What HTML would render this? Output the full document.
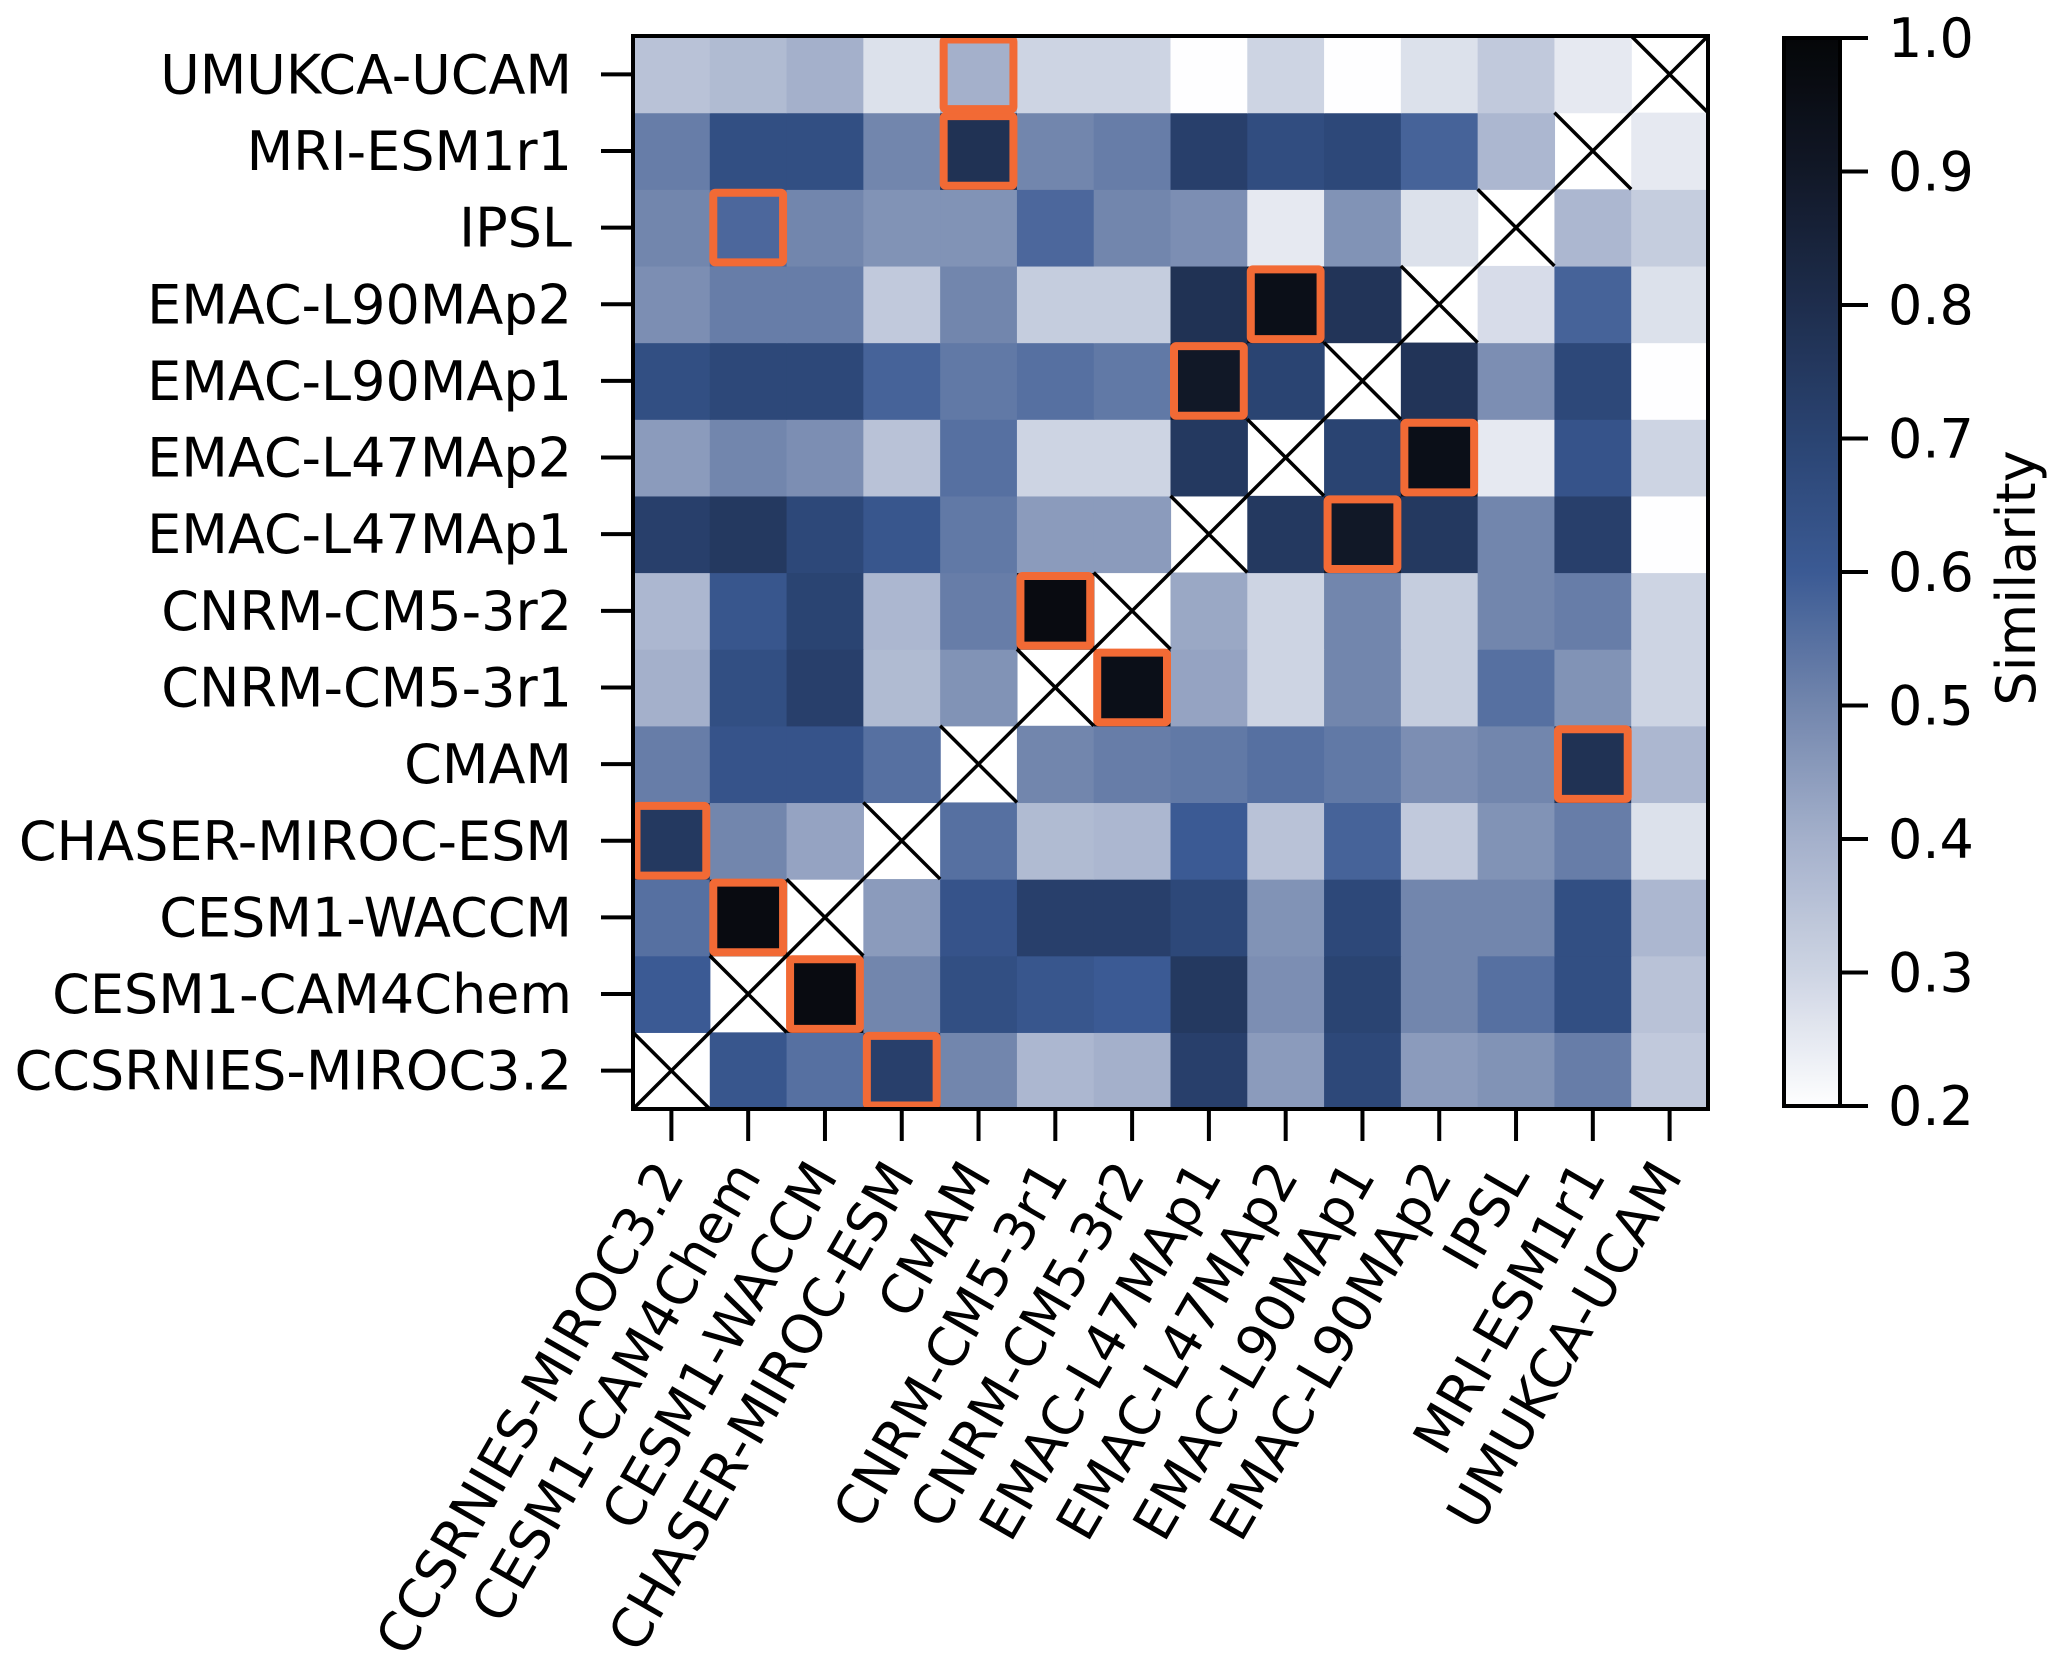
<!DOCTYPE html>
<html><head><meta charset="utf-8"><style>
html,body{margin:0;padding:0;background:#fff;}
svg{display:block;font-family:"DejaVu Sans","Liberation Sans",sans-serif;}
</style></head><body>
<svg id="chart" width="2067" height="1661" viewBox="0 0 2067 1661" xmlns="http://www.w3.org/2000/svg">
<g id="cells"></g>
<g id="marks"></g>
<g id="hl"></g>
<rect x="633" y="36" width="1075" height="1073" fill="none" stroke="#000" stroke-width="4"/>
<g id="axes"></g>
<defs><linearGradient id="cbg" x1="0" y1="1" x2="0" y2="0"></linearGradient></defs>
<rect x="1784" y="38" width="56" height="1068" fill="url(#cbg)" stroke="#000" stroke-width="4"/>
<g id="cbaxis"></g>
<text transform="translate(2035,578) rotate(-90)" text-anchor="middle" font-size="54">Similarity</text>
</svg>
<script>
const models = ["CCSRNIES-MIROC3.2","CESM1-CAM4Chem","CESM1-WACCM","CHASER-MIROC-ESM","CMAM","CNRM-CM5-3r1","CNRM-CM5-3r2","EMAC-L47MAp1","EMAC-L47MAp2","EMAC-L90MAp1","EMAC-L90MAp2","IPSL","MRI-ESM1r1","UMUKCA-UCAM"];
// rows indexed same as models (row 0 = bottom); null = diagonal
const row0 = [null,0.62,0.55,0.72,0.5,0.38,0.4,0.72,0.45,0.68,0.45,0.47,0.52,0.33];
const row1 = [0.6,null,0.97,0.5,0.65,0.62,0.6,0.75,0.48,0.7,0.5,0.55,0.65,0.35];
const row2 = [0.55,0.97,null,0.45,0.63,0.72,0.72,0.68,0.47,0.68,0.5,0.5,0.65,0.38];
const row3 = [0.75,0.5,0.43,null,0.55,0.37,0.38,0.6,0.35,0.58,0.33,0.47,0.52,0.27];
const row4 = [0.52,0.63,0.63,0.55,null,0.5,0.52,0.53,0.55,0.53,0.48,0.5,0.78,0.38];
const row5 = [0.4,0.65,0.72,0.37,0.47,null,0.95,0.43,0.3,0.5,0.32,0.55,0.47,0.3];
const row6 = [0.38,0.62,0.7,0.38,0.52,0.97,null,0.42,0.3,0.5,0.32,0.5,0.52,0.3];
const row7 = [0.72,0.75,0.68,0.62,0.53,0.45,0.45,null,0.75,0.9,0.75,0.5,0.72,0.2];
const row8 = [0.45,0.5,0.48,0.35,0.55,0.3,0.3,0.75,null,0.7,0.95,0.25,0.63,0.3];
const row9 = [0.65,0.68,0.68,0.58,0.53,0.55,0.53,0.9,0.7,null,0.77,0.48,0.68,0.2];
const row10 = [0.48,0.52,0.52,0.33,0.5,0.32,0.32,0.78,0.95,0.77,null,0.28,0.58,0.27];
const row11 = [0.5,0.57,0.5,0.47,0.47,0.57,0.5,0.48,0.25,0.47,0.27,null,0.38,0.32];
const row12 = [0.52,0.65,0.65,0.5,0.78,0.5,0.52,0.72,0.66,0.68,0.58,0.38,null,0.25];
const row13 = [0.35,0.37,0.4,0.27,0.4,0.3,0.3,0.2,0.3,0.2,0.27,0.33,0.25,null];
const rows = [row0,row1,row2,row3,row4,row5,row6,row7,row8,row9,row10,row11,row12,row13];
// column of highlighted (best match) cell per row
const bestCol = [3,2,1,0,12,6,5,9,10,7,8,1,4,4];
const cbTicks = [0.2,0.3,0.4,0.5,0.6,0.7,0.8,0.9,1.0];

const NS="http://www.w3.org/2000/svg";
const X0=633,Y0=36,W=1075,H=1073,n=models.length,cw=W/n,ch=H/n;
const xPos=c=>X0+c*cw;
const yPos=r=>Y0+(n-1-r)*ch;
const stops=[[0.2,[254,254,255]],[0.3,[205,212,227]],[0.4,[164,176,203]],[0.5,[114,134,173]],[0.6,[59,90,148]],[0.7,[42,68,114]],[0.8,[30,45,77]],[0.9,[17,24,39]],[1.0,[5,6,8]]];
function cmap(v){v=Math.max(0.2,Math.min(1,v));for(let i=0;i<stops.length-1;i++){const [a,ca]=stops[i],[b,cb]=stops[i+1];if(v<=b){const t=(v-a)/(b-a);return 'rgb('+ca.map((x,k)=>Math.round(x+(cb[k]-x)*t)).join(',')+')';}}return 'rgb(5,6,8)';}
function mk(tag,attrs,parent){const e=document.createElementNS(NS,tag);for(const k in attrs)e.setAttribute(k,attrs[k]);parent.appendChild(e);return e;}
const gc=document.getElementById('cells'),gm=document.getElementById('marks'),gh=document.getElementById('hl'),ga=document.getElementById('axes');
rows.forEach((row,r)=>{row.forEach((v,c)=>{
  if(v===null){
    const x=xPos(c),y=yPos(r);
    const l1=mk('line',{x1:x,y1:y,x2:x+cw,y2:y+ch,stroke:'#000','stroke-width':3.5},gm);
    
    
    const l2=mk('line',{x1:x+cw,y1:y,x2:x,y2:y+ch,stroke:'#000','stroke-width':3.5},gm);
    
    
  } else {
    const e=mk('rect',{x:xPos(c),y:yPos(r),width:cw+0.6,height:ch+0.6,fill:cmap(v)},gc);
    
    
  }
});});
bestCol.forEach((c,r)=>{
  const e=mk('rect',{x:xPos(c)+3.5,y:yPos(r)+3.5,width:cw-7,height:ch-7,fill:'none',stroke:'#f26a35','stroke-width':8,rx:2},gh);
  
  
});
models.forEach((m,i)=>{
  const yc=yPos(i)+ch/2;
  const t=mk('line',{x1:601,y1:yc,x2:633,y2:yc,stroke:'#000','stroke-width':4},ga);
  
  
  const tx=mk('text',{x:572,y:yc+19,'text-anchor':'end','font-size':54},ga);
  tx.textContent=m;
  
  
  const xc=xPos(i)+cw/2;
  const t2=mk('line',{x1:xc,y1:1109,x2:xc,y2:1141,stroke:'#000','stroke-width':4},ga);
  
  
  const tx2=mk('text',{transform:'translate('+(xc+14)+',1176) rotate(-60)','text-anchor':'end','font-size':54},ga);
  tx2.textContent=m;
  
  
});
const grad=document.getElementById('cbg');
for(let k=0;k<=40;k++){const v=0.2+0.8*k/40;mk('stop',{offset:(k/40),'stop-color':cmap(v)},grad);}
const cbY=v=>1106-(v-0.2)/0.8*1068;
const gcb=document.getElementById('cbaxis');
cbTicks.forEach(v=>{
  const y=cbY(v);
  const t=mk('line',{x1:1840,y1:y,x2:1868,y2:y,stroke:'#000','stroke-width':4},gcb);
  
  
  const tx=mk('text',{x:1888,y:y+19,'font-size':54},gcb);
  tx.textContent=v.toFixed(1);
  
  
});
</script>
</body></html>
